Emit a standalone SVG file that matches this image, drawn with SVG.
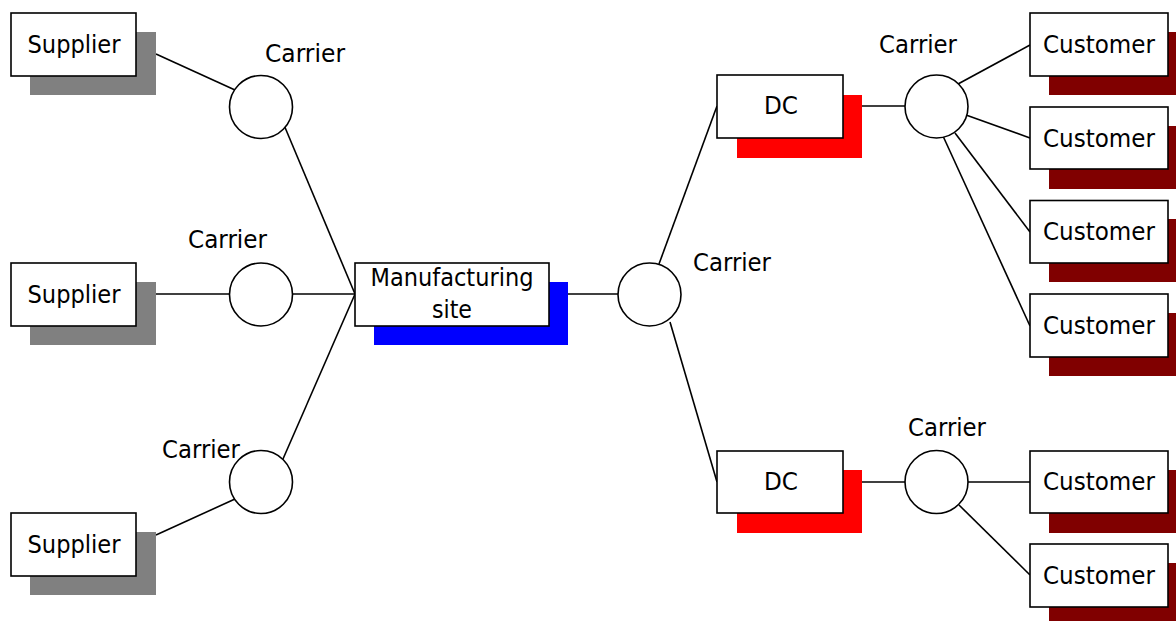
<svg xmlns="http://www.w3.org/2000/svg" width="1176" height="621" viewBox="0 0 1176 621">
<style>
.box{fill:#fff;stroke:#000;stroke-width:1.6}
.car{fill:#fff;stroke:#000;stroke-width:1.6}
.lbl{font-family:"DejaVu Sans",Verdana,sans-serif;font-size:24px;fill:#000}
.c{text-anchor:middle}
.sg{fill:#808080}.sb{fill:#0000ff}.sr{fill:#ff0000}.sm{fill:#800000}
#connectors line{stroke:#000;stroke-width:1.6}
</style>
<rect width="1176" height="621" fill="#fff"/>
<g id="connectors">
<line x1="156" y1="54" x2="235" y2="90"/>
<line x1="284" y1="125" x2="355" y2="294"/>
<line x1="156" y1="294" x2="235" y2="294"/>
<line x1="290" y1="294" x2="355" y2="294"/>
<line x1="156" y1="535" x2="235" y2="499"/>
<line x1="283" y1="459" x2="355" y2="294"/>
<line x1="568" y1="294" x2="620" y2="294"/>
<line x1="659" y1="264" x2="717" y2="106"/>
<line x1="670" y1="322" x2="717" y2="482"/>
<line x1="862" y1="106" x2="907" y2="106"/>
<line x1="958" y1="84" x2="1030" y2="45"/>
<line x1="966" y1="115" x2="1030" y2="138"/>
<line x1="955" y1="133" x2="1030" y2="232"/>
<line x1="943" y1="136" x2="1030" y2="326"/>
<line x1="862" y1="482" x2="907" y2="482"/>
<line x1="966" y1="482" x2="1030" y2="482"/>
<line x1="959" y1="505" x2="1030" y2="575"/>
</g>
<g id="supplier1"><rect class="sg" x="30" y="32" width="126" height="63"/><rect class="box" x="11" y="13" width="125" height="63"/><text class="lbl c" x="74" y="53" textLength="93" lengthAdjust="spacingAndGlyphs">Supplier</text></g>
<g id="supplier2"><rect class="sg" x="30" y="282" width="126" height="63"/><rect class="box" x="11" y="263" width="125" height="63"/><text class="lbl c" x="74" y="303" textLength="93" lengthAdjust="spacingAndGlyphs">Supplier</text></g>
<g id="supplier3"><rect class="sg" x="30" y="532" width="126" height="63"/><rect class="box" x="11" y="513" width="125" height="63"/><text class="lbl c" x="74" y="553" textLength="93" lengthAdjust="spacingAndGlyphs">Supplier</text></g>
<g id="carrier1"><circle class="car" cx="261" cy="107" r="31.5"/><text class="lbl" x="265" y="62" textLength="80" lengthAdjust="spacingAndGlyphs">Carrier</text></g>
<g id="carrier2"><circle class="car" cx="261" cy="294.5" r="31.5"/><text class="lbl" x="188" y="248" textLength="79" lengthAdjust="spacingAndGlyphs">Carrier</text></g>
<g id="carrier3"><circle class="car" cx="261" cy="482" r="31.5"/><text class="lbl" x="162" y="458" textLength="78" lengthAdjust="spacingAndGlyphs">Carrier</text></g>
<g id="manufacturing"><rect class="sb" x="374" y="282" width="194" height="63"/><rect class="box" x="355" y="263" width="194" height="63"/><text class="lbl c" x="452" y="286" textLength="163" lengthAdjust="spacingAndGlyphs">Manufacturing</text><text class="lbl c" x="452" y="318" textLength="40" lengthAdjust="spacingAndGlyphs">site</text></g>
<g id="carrier4"><circle class="car" cx="649.5" cy="294.5" r="31.5"/><text class="lbl" x="693" y="271" textLength="78" lengthAdjust="spacingAndGlyphs">Carrier</text></g>
<g id="dc1"><rect class="sr" x="737" y="95" width="125" height="63"/><rect class="box" x="717" y="75" width="126" height="63"/><text class="lbl c" x="781" y="114" textLength="34" lengthAdjust="spacingAndGlyphs">DC</text></g>
<g id="dc2"><rect class="sr" x="737" y="470" width="125" height="63"/><rect class="box" x="717" y="451" width="126" height="62"/><text class="lbl c" x="781" y="490" textLength="34" lengthAdjust="spacingAndGlyphs">DC</text></g>
<g id="carrier5"><circle class="car" cx="936.5" cy="106.5" r="31.5"/><text class="lbl" x="879" y="53" textLength="78" lengthAdjust="spacingAndGlyphs">Carrier</text></g>
<g id="carrier6"><circle class="car" cx="936.5" cy="482" r="31.5"/><text class="lbl" x="908" y="436" textLength="78" lengthAdjust="spacingAndGlyphs">Carrier</text></g>
<g id="customer1"><rect class="sm" x="1049" y="32" width="138" height="63"/><rect class="box" x="1030" y="13" width="138" height="63"/><text class="lbl c" x="1099" y="53" textLength="112" lengthAdjust="spacingAndGlyphs">Customer</text></g>
<g id="customer2"><rect class="sm" x="1049" y="126" width="138" height="63"/><rect class="box" x="1030" y="107" width="138" height="62"/><text class="lbl c" x="1099" y="147" textLength="112" lengthAdjust="spacingAndGlyphs">Customer</text></g>
<g id="customer3"><rect class="sm" x="1049" y="219" width="138" height="63"/><rect class="box" x="1030" y="200.5" width="138" height="62.5"/><text class="lbl c" x="1099" y="240" textLength="112" lengthAdjust="spacingAndGlyphs">Customer</text></g>
<g id="customer4"><rect class="sm" x="1049" y="313" width="138" height="63"/><rect class="box" x="1030" y="294" width="138" height="63"/><text class="lbl c" x="1099" y="334" textLength="112" lengthAdjust="spacingAndGlyphs">Customer</text></g>
<g id="customer5"><rect class="sm" x="1049" y="470" width="138" height="63"/><rect class="box" x="1030" y="451" width="138" height="62"/><text class="lbl c" x="1099" y="490" textLength="112" lengthAdjust="spacingAndGlyphs">Customer</text></g>
<g id="customer6"><rect class="sm" x="1049" y="563" width="138" height="63"/><rect class="box" x="1030" y="544" width="138" height="63"/><text class="lbl c" x="1099" y="584" textLength="112" lengthAdjust="spacingAndGlyphs">Customer</text></g>
</svg>
